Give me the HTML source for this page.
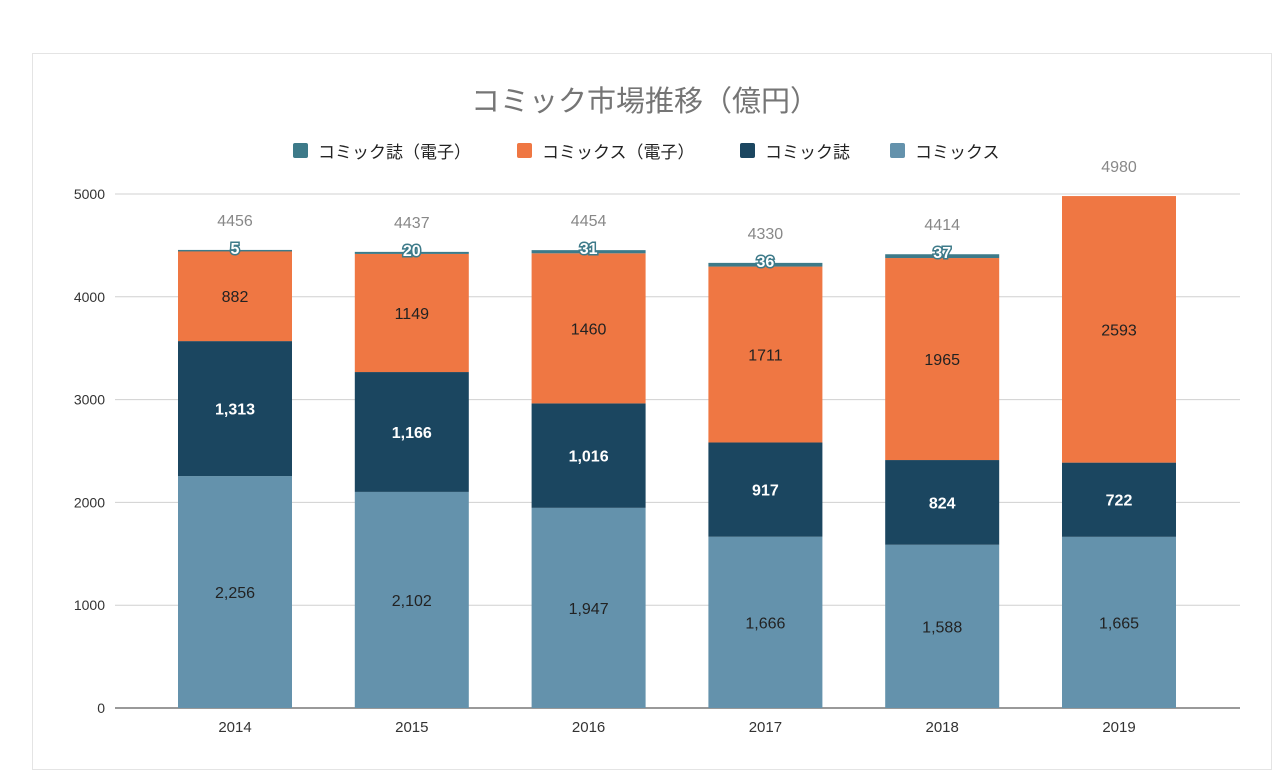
<!DOCTYPE html>
<html><head><meta charset="utf-8"><style>
body{margin:0;background:#fff;width:1278px;height:784px;overflow:hidden;font-family:"Liberation Sans","Noto Sans CJK JP",sans-serif}
#card{position:absolute;left:32px;top:53px;width:1240px;height:717px;border:1px solid #e4e4e4;box-sizing:border-box}
svg{position:absolute;left:0;top:0}
</style></head><body>
<div id="card"></div>
<svg id="chart" width="1278" height="784">
<text x="645" y="111" text-anchor="middle" font-size="29" fill="#757575">コミック市場推移（億円）</text>
<g id="legend"></g>
<g id="grid"></g>
<g id="bars"></g>
<g id="labels"></g>
</svg>
<script>
const years=["2014","2015","2016","2017","2018","2019"];
const comics=[2256,2102,1947,1666,1588,1665];
const magazine=[1313,1166,1016,917,824,722];
const comicsDigital=[882,1149,1460,1711,1965,2593];
const magazineDigital=[5,20,31,36,37,0];
const yTicks=[0,1000,2000,3000,4000,5000];
const seriesNames=["コミック誌（電子）","コミックス（電子）","コミック誌","コミックス"];
const NS="http://www.w3.org/2000/svg";
function mk(t,a,p){const e=document.createElementNS(NS,t);for(const k in a)e.setAttribute(k,a[k]);p.appendChild(e);return e;}
const y0=708,pxPer=102.8/1000;
const yS=v=>y0-v*pxPer;
const xC=i=>235+i*176.8;
const bw=114;
const grid=document.getElementById('grid');
yTicks.forEach(t=>{
 const l=mk('line',{x1:115,x2:1240,y1:yS(t),y2:yS(t),stroke:t===0?'#333':'#d0d0d0','stroke-width':1},grid);
 
 
 const tx=mk('text',{x:105,y:yS(t)+5,'text-anchor':'end','font-size':14,fill:'#333'},grid);tx.textContent=t;
 
 
});
const bars=document.getElementById('bars'),labels=document.getElementById('labels');
const series=[
 {d:comics,c:'#6492ac',lc:'#222',fmt:true,n:'comics'},
 {d:magazine,c:'#1b4660',lc:'#fff',fmt:true,bold:true,n:'magazine'},
 {d:comicsDigital,c:'#ef7743',lc:'#222',fmt:false,n:'comics-digital'},
 {d:magazineDigital,c:'#3d7a89',lc:'#fff',fmt:false,n:'magazine-digital',small:true}];
years.forEach((yr,i)=>{
 let acc=0;
 series.forEach(s=>{
  const v=s.d[i];
  const top=yS(acc+v),bot=yS(acc);
  if(v>0){
   const r=mk('rect',{x:xC(i)-bw/2,y:top,width:bw,height:Math.max(bot-top,1.5),fill:s.c},bars);
   
   
   const txt=s.fmt?v.toLocaleString('en-US'):String(v);
   let t;
   if(s.small){
    t=mk('text',{x:xC(i),y:top+4,'text-anchor':'middle','font-size':16,'font-weight':'bold',fill:'#fff',stroke:'#3d7a89','stroke-width':3,'paint-order':'stroke'},labels);
   }else{
    t=mk('text',{x:xC(i),y:(top+bot)/2+6,'text-anchor':'middle','font-size':16,'font-weight':s.bold?'bold':'normal',fill:s.lc},labels);
   }
   t.textContent=txt;
   
   
  }
  acc+=v;
 });
 const tot=mk('text',{x:xC(i),y:yS(acc)-24,'text-anchor':'middle','font-size':16,fill:'#888'},labels);
 tot.textContent=acc;
 
 
 const xl=mk('text',{x:xC(i),y:732,'text-anchor':'middle','font-size':15,fill:'#333'},labels);
 xl.textContent=yr;
 
 
});
const legend=document.getElementById('legend');
const lcols=['#3d7a89','#ef7743','#1b4660','#6492ac'];
const lx=[293,517,740,890];
seriesNames.forEach((n,i)=>{
 const g=mk('g',{},legend);
 
 
 mk('rect',{x:lx[i],y:143,width:15,height:15,rx:2,fill:lcols[i]},g);
 const t=mk('text',{x:lx[i]+25,y:158,'font-size':17,fill:'#222'},g);t.textContent=n;
});
</script>
</body></html>
